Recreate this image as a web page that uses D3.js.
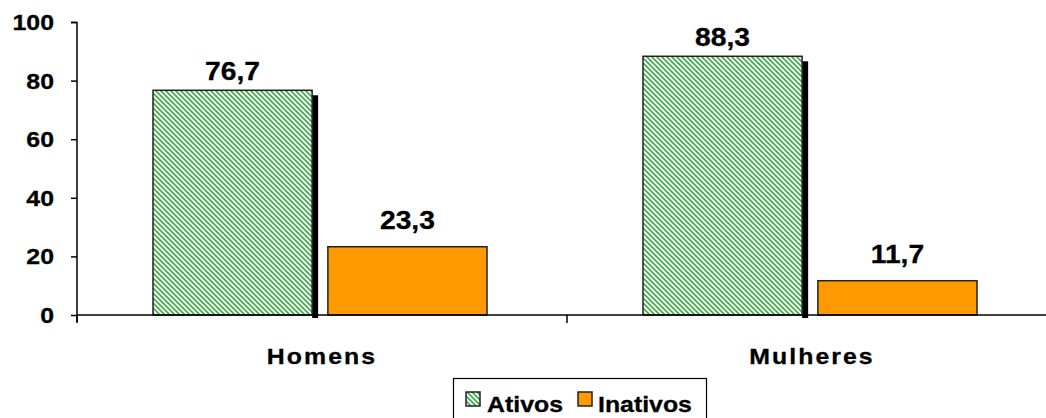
<!DOCTYPE html>
<html><head><meta charset="utf-8">
<script src="https://cdn.jsdelivr.net/npm/d3@7"></script>
<style>
html,body{margin:0;padding:0;background:#fff;}
svg{display:block;}
text{font-family:"Liberation Sans",Arial,sans-serif;font-weight:bold;fill:#000;stroke:#000;stroke-width:0.3;}
</style></head>
<body>
<svg id="c" width="1046" height="418"></svg>
<script>
const categories = ["Homens", "Mulheres"];
const seriesNames = ["Ativos", "Inativos"];
const ativos = [76.7, 88.3];
const inativos = [23.3, 11.7];
const yTicks = [0, 20, 40, 60, 80, 100];
const valueLabels = ["76,7", "88,3", "23,3", "11,7"];

const svg = d3.select("#c");
const defs = svg.append("defs");
const pat = defs.append("pattern").attr("id","hatch").attr("patternUnits","userSpaceOnUse")
  .attr("width",5).attr("height",5);
pat.append("rect").attr("width",5).attr("height",5).attr("fill","#fff");
pat.append("path").attr("d","M0,0L5,5M-1,4L1,6M4,-1L6,1")
  .attr("stroke","#3fae49").attr("stroke-width",1.7);

const x0 = d3.scaleBand().domain(categories).range([77, 1057]).paddingInner(0).paddingOuter(0);
const x1 = d3.scaleBand().domain(seriesNames).range([76, 410]).paddingInner(0.09).paddingOuter(0);
const y = d3.scaleLinear().domain([0, 100]).range([315, 22]);

const SX = 1.13;
function stext(g, x, yy, str, size, anchor, ls){
  const t = g.append("g").attr("transform",`translate(${x},${yy}) scale(${SX},1)`)
    .append("text").attr("text-anchor",anchor).attr("font-size",size).text(str);
  if (ls) t.attr("letter-spacing", ls);
  return t;
}

const data = [];
categories.forEach((c,i)=>{
  data.push({cat:c, s:"Ativos", v:ativos[i], label:valueLabels[i]});
  data.push({cat:c, s:"Inativos", v:inativos[i], label:valueLabels[2+i]});
});

const g = svg.append("g");
data.filter(d=>d.s==="Ativos").forEach(d=>{
  const bx = x0(d.cat)+x1(d.s), bw = x1.bandwidth();
  g.append("rect").attr("x",bx+bw).attr("y",y(d.v)+5).attr("width",6)
    .attr("height",y(0)+3-(y(d.v)+5)).attr("fill","#000");
});
data.forEach(d=>{
  const bx = x0(d.cat)+x1(d.s), bw = x1.bandwidth();
  g.append("rect").attr("x",bx).attr("y",y(d.v)).attr("width",bw).attr("height",y(0)-y(d.v))
    .attr("fill", d.s==="Ativos" ? "url(#hatch)" : "#ff9900")
    .attr("stroke","#222").attr("stroke-width",1.5);
});
data.forEach(d=>{
  const cx = x0(d.cat)+x1(d.s)+x1.bandwidth()/2;
  const off = d.s==="Ativos" ? 10 : 18;
  stext(svg, cx, y(d.v)-off, d.label, 25, "middle");
});

const ya = svg.append("g").attr("transform","translate(77,0)")
  .call(d3.axisLeft(y).tickValues(yTicks).tickSize(6).tickFormat(""));
ya.select(".domain").attr("stroke","#000").attr("stroke-width",1.5).attr("d","M-6,22.5H0V322");
ya.selectAll(".tick line").attr("stroke","#000").attr("stroke-width",1.5);
yTicks.forEach(t=>{
  stext(svg, 54, y(t)+8, String(t), 22, "end");
});

const xa = svg.append("g").attr("transform","translate(0,315)");
xa.append("line").attr("x1",77).attr("x2",1046).attr("y1",0).attr("y2",0)
  .attr("stroke","#000").attr("stroke-width",1.5);
categories.forEach(c=>{
  xa.append("line").attr("x1",x0(c)).attr("x2",x0(c)).attr("y1",0).attr("y2",8)
    .attr("stroke","#000").attr("stroke-width",1.5);
  stext(svg, x0(c)+x0.bandwidth()/2, 364, c, 22, "middle", 1.8);
});

const lg = svg.append("g");
lg.append("rect").attr("x",453.5).attr("y",378.5).attr("width",253).attr("height",50)
  .attr("fill","#fff").attr("stroke","#000").attr("stroke-width",1.2);
lg.append("rect").attr("x",466).attr("y",392).attr("width",14).attr("height",14)
  .attr("fill","url(#hatch)").attr("stroke","#222").attr("stroke-width",1.5);
stext(lg, 487, 412, "Ativos", 22, "start");
lg.append("rect").attr("x",578).attr("y",392).attr("width",14).attr("height",14)
  .attr("fill","#ff9900").attr("stroke","#222").attr("stroke-width",1.5);
stext(lg, 598, 412, "Inativos", 22, "start");
</script>
</body></html>
